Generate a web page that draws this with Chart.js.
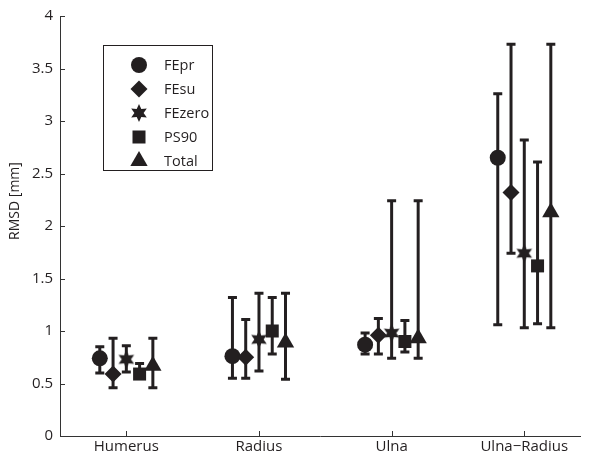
<!DOCTYPE html>
<html>
<head>
<meta charset="utf-8">
<script src="https://cdn.jsdelivr.net/npm/chart.js@4/dist/chart.umd.min.js"></script>
<style>
html,body{margin:0;padding:0;background:#fff;}
#wrap{width:590px;height:463px;}
</style>
</head>
<body>
<div id="wrap"><canvas id="c" width="590" height="463"></canvas></div>
<script>
// ---- data ----
const categories = ['Humerus', 'Radius', 'Ulna', 'Ulna\u2212Radius'];
const seriesNames = ['FEpr', 'FEsu', 'FEzero', 'PS90', 'Total'];
const yTicks = [0, 0.5, 1, 1.5, 2, 2.5, 3, 3.5, 4];
const yTitle = 'RMSD [mm]';

const FEpr_mean   = [0.74, 0.76, 0.87, 2.65];
const FEpr_low    = [0.60, 0.55, 0.78, 1.06];
const FEpr_high   = [0.85, 1.32, 0.98, 3.26];

const FEsu_mean   = [0.59, 0.75, 0.96, 2.32];
const FEsu_low    = [0.46, 0.55, 0.78, 1.74];
const FEsu_high   = [0.93, 1.11, 1.12, 3.73];

const FEzero_mean = [0.73, 0.92, 0.98, 1.74];
const FEzero_low  = [0.61, 0.62, 0.74, 1.03];
const FEzero_high = [0.86, 1.36, 2.24, 2.82];

const PS90_mean   = [0.59, 1.00, 0.90, 1.62];
const PS90_low    = [0.55, 0.78, 0.80, 1.07];
const PS90_high   = [0.69, 1.32, 1.10, 2.61];

const Total_mean  = [0.67, 0.89, 0.93, 2.13];
const Total_low   = [0.46, 0.54, 0.74, 1.03];
const Total_high  = [0.93, 1.36, 2.24, 3.73];

// ---- styling ----
const INK = '#231f20';
const FONT = "'Open Sans', 'Liberation Sans', sans-serif";

function makeHexagram(R, r) {
  const size = Math.ceil(2 * R + 2);
  const cv = document.createElement('canvas');
  cv.width = size; cv.height = size;
  const g = cv.getContext('2d');
  g.fillStyle = INK;
  g.beginPath();
  for (let i = 0; i < 12; i++) {
    const ang = -Math.PI / 2 + i * Math.PI / 6;
    const rad = (i % 2 === 0) ? R : r;
    const px = size / 2 + Math.cos(ang) * rad;
    const py = size / 2 + Math.sin(ang) * rad;
    if (i === 0) g.moveTo(px, py); else g.lineTo(px, py);
  }
  g.closePath();
  g.fill();
  return cv;
}
const starImg = makeHexagram(9, 4.6);

const seriesDefs = [
  {name: seriesNames[0], mean: FEpr_mean,   low: FEpr_low,   high: FEpr_high,   style: 'circle',   radius: 8},
  {name: seriesNames[1], mean: FEsu_mean,   low: FEsu_low,   high: FEsu_high,   style: 'rectRot',  radius: 8.5},
  {name: seriesNames[2], mean: FEzero_mean, low: FEzero_low, high: FEzero_high, style: starImg,    radius: 9},
  {name: seriesNames[3], mean: PS90_mean,   low: PS90_low,   high: PS90_high,   style: 'rect',     radius: 9.2},
  {name: seriesNames[4], mean: Total_mean,  low: Total_low,  high: Total_high,  style: 'triangle', radius: 10}
];
const groupOffsets = [-0.2, -0.1, 0, 0.1, 0.2];

const datasets = seriesDefs.map((s, si) => ({
  label: s.name,
  data: s.mean.map((v, ci) => ({x: ci + 1 + groupOffsets[si], y: v, lo: s.low[ci], hi: s.high[ci]})),
  pointStyle: s.style,
  pointRadius: s.radius,
  pointHoverRadius: s.radius,
  pointBackgroundColor: INK,
  pointBorderColor: INK,
  pointBorderWidth: 0,
  showLine: false
}));

// error bars drawn through the chart's scales
const errorBars = {
  id: 'errorBars',
  beforeDatasetsDraw(chart) {
    const ctx = chart.ctx;
    const xs = chart.scales.x, ys = chart.scales.y;
    ctx.save();
    ctx.strokeStyle = INK;
    ctx.lineWidth = 3;
    ctx.lineCap = 'butt';
    chart.data.datasets.forEach(ds => {
      ds.data.forEach(p => {
        const x = xs.getPixelForValue(p.x);
        const yl = ys.getPixelForValue(p.lo);
        const yh = ys.getPixelForValue(p.hi);
        ctx.beginPath();
        ctx.moveTo(x, yl); ctx.lineTo(x, yh);
        ctx.stroke();
        ctx.beginPath();
        ctx.moveTo(x - 4.5, yl); ctx.lineTo(x + 4.5, yl);
        ctx.moveTo(x - 4.5, yh); ctx.lineTo(x + 4.5, yh);
        ctx.stroke();
      });
    });
    ctx.restore();
  }
};

// inward tick marks + y-axis title
const innerTicks = {
  id: 'innerTicks',
  afterDraw(chart) {
    const ctx = chart.ctx;
    const xs = chart.scales.x, ys = chart.scales.y;
    const a = chart.chartArea;
    ctx.save();
    ctx.strokeStyle = '#333';
    ctx.lineWidth = 1;
    ctx.beginPath();
    xs.ticks.forEach(t => {
      const x = Math.round(xs.getPixelForValue(t.value)) + 0.5;
      ctx.moveTo(x, a.bottom); ctx.lineTo(x, a.bottom - 5);
    });
    ys.ticks.forEach(t => {
      const y = Math.round(ys.getPixelForValue(t.value)) + 0.5;
      ctx.moveTo(a.left, y); ctx.lineTo(a.left + 5, y);
    });
    ctx.stroke();
    // y title
    ctx.translate(15, 201);
    ctx.rotate(-Math.PI / 2);
    ctx.font = '14px ' + FONT;
    ctx.fillStyle = INK;
    ctx.textAlign = 'center';
    ctx.textBaseline = 'middle';
    ctx.fillText(yTitle, 0, 0);
    ctx.restore();
  }
};

// boxed legend inside the axes
const boxLegend = {
  id: 'boxLegend',
  afterDraw(chart) {
    const ctx = chart.ctx;
    ctx.save();
    ctx.strokeStyle = INK;
    ctx.lineWidth = 1;
    ctx.strokeRect(103.5, 45.5, 109, 125);
    ctx.font = '14.5px ' + FONT;
    ctx.textBaseline = 'middle';
    ctx.textAlign = 'left';
    chart.data.datasets.forEach((ds, i) => {
      const y = 65 + i * 24;
      ctx.fillStyle = INK;
      Chart.helpers.drawPoint(ctx, {pointStyle: ds.pointStyle, radius: ds.pointRadius, rotation: 0, borderWidth: 0}, 139, y);
      ctx.fillStyle = INK;
      ctx.fillText(ds.label, 164, y + 1);
    });
    ctx.restore();
  }
};

new Chart(document.getElementById('c'), {
  type: 'scatter',
  data: {datasets},
  options: {
    responsive: false,
    devicePixelRatio: 1,
    animation: false,
    events: [],
    layout: {padding: {top: 10, right: 0, bottom: 0, left: 0}},
    plugins: {legend: {display: false}, tooltip: {enabled: false}},
    scales: {
      x: {
        type: 'linear',
        min: 0.5,
        max: 4.42,
        afterBuildTicks(scale) { scale.ticks = categories.map((c, i) => ({value: i + 1})); },
        afterFit(scale) { scale.height = 27; },
        ticks: {
          callback: v => categories[v - 1],
          font: {family: FONT, size: 15},
          color: INK,
          padding: 2,
          maxRotation: 0,
          autoSkip: false
        },
        grid: {display: true, drawOnChartArea: false, drawTicks: false},
        border: {display: true, color: '#333', width: 1}
      },
      y: {
        type: 'linear',
        min: 0,
        max: 4,
        afterBuildTicks(scale) { scale.ticks = yTicks.map(v => ({value: v})); },
        afterFit(scale) { scale.width = 60; },
        ticks: {
          callback: v => String(v),
          font: {family: FONT, size: 15},
          color: INK,
          padding: 7
        },
        title: {display: false},
        grid: {display: true, drawOnChartArea: false, drawTicks: false},
        border: {display: true, color: '#333', width: 1}
      }
    }
  },
  plugins: [errorBars, innerTicks, boxLegend]
});
</script>
</body>
</html>
